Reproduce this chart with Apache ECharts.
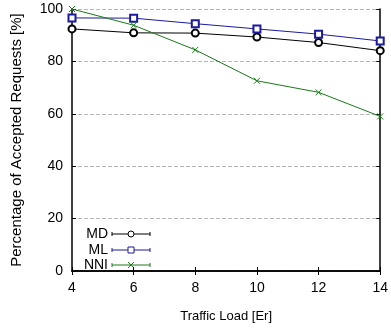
<!DOCTYPE html>
<html>
<head>
<meta charset="utf-8">
<script src="https://cdn.jsdelivr.net/npm/echarts@6/dist/echarts.min.js"></script>
<style>
  html, body { margin: 0; padding: 0; background: #fff; }
  #chart { width: 391px; height: 328px; }
</style>
</head>
<body>
<div id="chart"></div>
<script>
  // traffic load values (x axis)
  var loads = [4, 6, 8, 10, 12, 14];
  // accepted requests [%]
  var mdValues  = [92.4, 90.9, 90.8, 89.3, 87.2, 84.1];
  var mlValues  = [96.6, 96.5, 94.4, 92.4, 90.4, 87.8];
  var nniValues = [100, 93.8, 84.4, 72.6, 68.2, 59.0];
  var seriesNames = ['MD', 'ML', 'NNI'];

  var colMD = '#000000', colML = '#1a1a9a', colNNI = '#1a7a1a';
  var crossIcon = 'path://M0,0L10,10M10,0L0,10';
  var font = 'Liberation Sans, Arial, sans-serif';

  function pairs(vals) {
    return loads.map(function (x, i) { return [x, vals[i]]; });
  }

  var myChart = echarts.init(document.getElementById('chart'));

  // legend drawn like gnuplot: label, then line with end bars and marker
  function legendRow(y, name, color, symbol) {
    var items = [
      { type: 'text', x: 108, y: y, style: { text: name, align: 'right', verticalAlign: 'middle', fill: '#000', font: '14px ' + font } },
      { type: 'line', shape: { x1: 112, y1: y, x2: 150, y2: y }, style: { stroke: color, lineWidth: 1 } },
      { type: 'line', shape: { x1: 112, y1: y - 2, x2: 112, y2: y + 2 }, style: { stroke: color, lineWidth: 1 } },
      { type: 'line', shape: { x1: 150, y1: y - 2, x2: 150, y2: y + 2 }, style: { stroke: color, lineWidth: 1 } }
    ];
    if (symbol === 'circle') {
      items.push({ type: 'circle', shape: { cx: 131, cy: y, r: 3 }, style: { fill: '#fff', stroke: color, lineWidth: 1 } });
    } else if (symbol === 'rect') {
      items.push({ type: 'rect', shape: { x: 128, y: y - 3, width: 6, height: 6 }, style: { fill: '#fff', stroke: color, lineWidth: 1 } });
    } else {
      items.push({ type: 'polyline', shape: { points: [[128, y - 3], [134, y + 3]] }, style: { stroke: color, lineWidth: 1 } });
      items.push({ type: 'polyline', shape: { points: [[134, y - 3], [128, y + 3]] }, style: { stroke: color, lineWidth: 1 } });
    }
    return items;
  }

  var legendItems = []
    .concat(legendRow(234, seriesNames[0], colMD, 'circle'))
    .concat(legendRow(250, seriesNames[1], colML, 'rect'))
    .concat(legendRow(265, seriesNames[2], colNNI, 'cross'));

  var axisLine = { show: true, lineStyle: { color: '#000', width: 1.5 } };

  var option = {
    animation: false,
    grid: { left: 72, right: 9, top: 9, bottom: 51, show: false },
    xAxis: [
      {
        type: 'value', min: 4, max: 14, interval: 2,
        name: 'Traffic Load [Er]', nameLocation: 'middle', nameGap: 39,
        nameTextStyle: { color: '#000', fontSize: 13, fontFamily: font },
        axisLine: axisLine,
        axisTick: { inside: true, length: 4, lineStyle: { color: '#000' } },
        axisLabel: { color: '#000', fontSize: 14, fontFamily: font, margin: 10 },
        splitLine: { show: false }
      },
      {
        type: 'value', min: 4, max: 14, interval: 2, position: 'top',
        axisLine: axisLine,
        axisTick: { inside: true, length: 4, lineStyle: { color: '#000' } },
        axisLabel: { show: false },
        splitLine: { show: false }
      }
    ],
    yAxis: [
      {
        type: 'value', min: 0, max: 100, interval: 20,
        name: 'Percentage of Accepted Requests [%]', nameLocation: 'middle', nameGap: 48,
        nameTextStyle: { color: '#000', fontSize: 15, fontFamily: font },
        axisLine: axisLine,
        axisTick: { inside: true, length: 4, lineStyle: { color: '#000' } },
        axisLabel: { color: '#000', fontSize: 14, fontFamily: font, margin: 9 },
        splitLine: { show: true, lineStyle: { color: '#b8b8b8', type: [4, 2], width: 1 } }
      },
      {
        type: 'value', min: 0, max: 100, interval: 20, position: 'right',
        axisLine: axisLine,
        axisTick: { inside: true, length: 4, lineStyle: { color: '#000' } },
        axisLabel: { show: false },
        splitLine: { show: false }
      }
    ],
    series: [
      {
        name: seriesNames[0], type: 'line', data: pairs(mdValues),
        symbol: 'emptyCircle', symbolSize: 7,
        lineStyle: { color: colMD, width: 1 },
        itemStyle: { color: colMD, borderColor: colMD, borderWidth: 1 }
      },
      {
        name: seriesNames[1], type: 'line', data: pairs(mlValues),
        symbol: 'emptyRect', symbolSize: 7,
        lineStyle: { color: colML, width: 1 },
        itemStyle: { color: colML, borderColor: colML, borderWidth: 1 }
      },
      {
        name: seriesNames[2], type: 'line', data: pairs(nniValues),
        symbol: crossIcon, symbolSize: 6,
        lineStyle: { color: colNNI, width: 1 },
        itemStyle: { color: colNNI, borderColor: colNNI, borderWidth: 1 }
      }
    ],
    graphic: legendItems
  };

  myChart.setOption(option);
</script>
</body>
</html>
